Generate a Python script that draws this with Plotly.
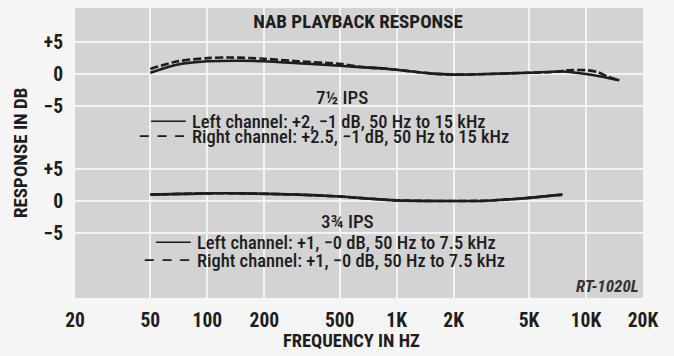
import math
import plotly.graph_objects as go

# ---- measured playback response (dB) vs frequency (Hz) ----
freq_75_left = [50, 70, 100, 150, 200, 300, 500, 900, 1500, 2000, 3000, 5000, 7500, 10000, 12000, 15000]
resp_75_left = [0.2, 1.5, 2.0, 2.1, 2.0, 1.7, 1.3, 0.8, 0.1, -0.1, 0.0, 0.2, 0.4, 0.0, -0.4, -1.0]

freq_75_right = [50, 70, 100, 130, 200, 300, 500, 650, 900, 1500, 2000, 3000, 5000, 7000, 8000, 10000, 11500, 13000, 15000]
resp_75_right = [0.8, 2.0, 2.5, 2.6, 2.4, 2.0, 1.6, 1.1, 0.8, 0.1, -0.1, 0.0, 0.2, 0.35, 0.6, 0.6, 0.3, -0.4, -1.0]

freq_375_left = [50, 100, 150, 300, 500, 1000, 2000, 3000, 5000, 7500]
resp_375_left = [1.0, 1.2, 1.2, 1.0, 0.7, 0.1, 0.0, 0.05, 0.5, 1.0]

freq_375_right = [50, 100, 150, 300, 500, 1000, 2000, 3000, 5000, 7500]
resp_375_right = [1.0, 1.2, 1.2, 1.0, 0.7, 0.1, 0.0, 0.05, 0.5, 1.0]

x_tick_vals = [20, 50, 100, 200, 500, 1000, 2000, 5000, 10000, 20000]
x_tick_text = ["20", "50", "100", "200", "500", "1K", "2K", "5K", "10K", "20K"]
y_tick_vals = [-5, 0, 5]
y_tick_text = ["\u22125", "0", "+5"]

legend_75 = ["Left channel: +2, \u22121 dB, 50 Hz to 15 kHz",
             "Right channel: +2.5, \u22121 dB, 50 Hz to 15 kHz"]
legend_375 = ["Left channel: +1, \u22120 dB, 50 Hz to 7.5 kHz",
              "Right channel: +1, \u22120 dB, 50 Hz to 7.5 kHz"]

# ---- styling ----
W, H = 674, 356
PX_L, PX_R, PX_T, PX_B = 75, 643, 8, 298
NARROW = "Roboto Condensed, Roboto, sans-serif"
RULE_FONT = "DejaVu Sans, sans-serif"
INK = "#1d1d1d"
PAPER = "#f5f5f5"
PANEL = "#d3d3d3"
GRID = "#f4f4f4"
LOWER_TOP = 138  # pixel row where the two panels meet


def fx(px):
    return (px - PX_L) / (PX_R - PX_L)


def fy(py):
    return (PX_B - py) / (PX_B - PX_T)


split = fy(LOWER_TOP)

fig = go.Figure()

line_solid = dict(color=INK, width=2.6, shape="spline", smoothing=0.8)
line_dash = dict(color=INK, width=2.6, shape="spline", smoothing=0.8, dash="8px,3px")

fig.add_trace(go.Scatter(x=freq_75_left, y=resp_75_left, mode="lines", line=line_solid,
                         xaxis="x", yaxis="y2", name="7\u00bd IPS left"))
fig.add_trace(go.Scatter(x=freq_75_right, y=resp_75_right, mode="lines", line=line_dash,
                         xaxis="x", yaxis="y2", name="7\u00bd IPS right"))
fig.add_trace(go.Scatter(x=freq_375_right, y=resp_375_right, mode="lines", line=line_dash,
                         xaxis="x", yaxis="y", name="3\u00be IPS right"))
fig.add_trace(go.Scatter(x=freq_375_left, y=resp_375_left, mode="lines", line=line_solid,
                         xaxis="x", yaxis="y", name="3\u00be IPS left"))

tick_font = dict(family=NARROW, size=19.5, color=INK, weight="bold")
y_common = dict(
    tickvals=y_tick_vals, ticktext=y_tick_text, tickfont=tick_font,
    showgrid=True, gridcolor=GRID, gridwidth=2, zeroline=False,
    showline=False, ticks="", ticklabelstandoff=11, fixedrange=True,
)

px_per_db = 6.34
upper_range = [-(LOWER_TOP - 74) / px_per_db, (74 - PX_T) / px_per_db]
lower_range = [-(PX_B - 201) / px_per_db, (201 - LOWER_TOP) / px_per_db]

fig.update_layout(
    width=W, height=H,
    margin=dict(l=PX_L, r=W - PX_R, t=PX_T, b=H - PX_B),
    paper_bgcolor=PAPER, plot_bgcolor=PANEL,
    showlegend=False,
    title=dict(text="NAB PLAYBACK RESPONSE", x=358 / W, xanchor="center",
               y=1 - 21 / H, yanchor="middle",
               font=dict(family=NARROW, size=19, color=INK, weight="bold")),
    xaxis=dict(type="log", range=[math.log10(20), math.log10(20000)],
               tickvals=x_tick_vals, ticktext=x_tick_text, tickfont=tick_font,
               showgrid=True, gridcolor=GRID, gridwidth=2, zeroline=False,
               showline=False, ticks="", ticklabelstandoff=8, anchor="y"),
    yaxis=dict(domain=[0, split], range=lower_range, anchor="x", **y_common),
    yaxis2=dict(domain=[split, 1], range=upper_range, anchor="x", **y_common),
)

text_font = dict(family=NARROW, size=18.5, color=INK, weight=500)
head_font = dict(family=NARROW, size=19, color=INK, weight=500)
solid_font = dict(family=RULE_FONT, size=19, color=INK)
dash_font = dict(family=NARROW, size=22, color=INK)
anns = [
    dict(text="FREQUENCY IN HZ", x=fx(351), y=fy(341), xanchor="center", yanchor="middle",
         font=dict(family=NARROW, size=18.5, color=INK, weight="bold")),
    dict(text="RESPONSE IN DB", x=fx(20), y=fy(153), xanchor="center", yanchor="middle",
         textangle=-90, font=dict(family=NARROW, size=19, color=INK, weight="bold")),
    dict(text="7\u00bd IPS", x=fx(342), y=fy(98), xanchor="center", yanchor="middle", font=head_font),
    dict(text="\u2500\u2500\u2500", x=fx(187), y=fy(121), xanchor="right", yanchor="middle", font=solid_font),
    dict(text=legend_75[0], x=fx(191), y=fy(122), xanchor="left", yanchor="middle", font=text_font),
    dict(text="\u2013 \u2013 \u2013", x=fx(187), y=fy(136), xanchor="right", yanchor="middle", font=dash_font),
    dict(text=legend_75[1], x=fx(191), y=fy(137), xanchor="left", yanchor="middle", font=text_font),
    dict(text="3\u00be IPS", x=fx(347), y=fy(222), xanchor="center", yanchor="middle", font=head_font),
    dict(text="\u2500\u2500\u2500", x=fx(192), y=fy(242), xanchor="right", yanchor="middle", font=solid_font),
    dict(text=legend_375[0], x=fx(196), y=fy(243), xanchor="left", yanchor="middle", font=text_font),
    dict(text="\u2013 \u2013 \u2013", x=fx(192), y=fy(260), xanchor="right", yanchor="middle", font=dash_font),
    dict(text=legend_375[1], x=fx(196), y=fy(261), xanchor="left", yanchor="middle", font=text_font),
    dict(text="RT-1020L", x=fx(640), y=fy(286), xanchor="right", yanchor="middle",
         font=dict(family=NARROW, size=17, color="#333333", weight="bold", style="italic")),
]
for a in anns:
    a.update(xref="paper", yref="paper", showarrow=False, borderpad=0)
fig.update_layout(annotations=anns)

fig.write_html("out.html")
